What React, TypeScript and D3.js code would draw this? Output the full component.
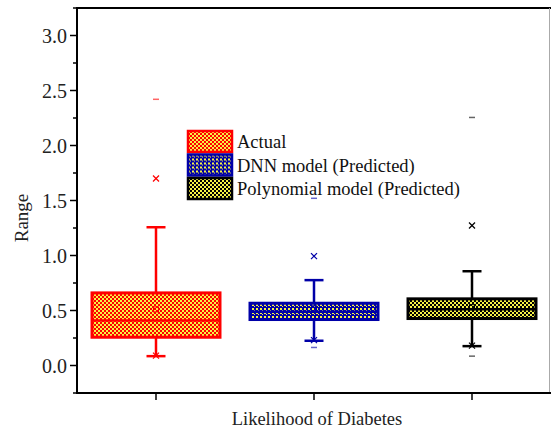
import React from "react";
import * as d3 from "d3";

const categories = ["Actual", "DNN model (Predicted)", "Polynomial model (Predicted)"];
const q1 = [0.257, 0.418, 0.427];
const median = [0.41, 0.488, 0.512];
const q3 = [0.66, 0.566, 0.606];
const whiskerLow = [0.085, 0.225, 0.176];
const whiskerHigh = [1.257, 0.776, 0.857];
const means = [0.51, 0.52, 0.53];
const p1 = [0.09, 0.23, 0.18];
const p99 = [1.7, 0.994, 1.273];
const minV = [0.085, 0.164, 0.085];
const maxV = [2.42, 1.52, 2.255];
const yTicks = [0, 0.5, 1.0, 1.5, 2.0, 2.5, 3.0];
const colors = ["#ff0000", "#0000a8", "#000000"];

const W = 551, H = 431;
const left = 77, right = 551, top = 8, bottom = 393;
const font = '"Times New Roman", "Liberation Serif", "DejaVu Serif", serif';

export default function App() {
  const x = d3.scaleLinear().domain([0.5, 3.5]).range([left, right]);
  const y = d3.scaleLinear().domain([-0.25, 3.25]).range([bottom, top]);
  const halfW = x(1.405) - x(1);
  const capHalf = 9.5;
  const minorTicks = d3.range(-0.25, 3.26, 0.25).filter((v) => Math.abs((v * 2) % 1) > 0.01);
  const cross = (cx: number, cy: number, c: string, s = 3) => (
    <g stroke={c} strokeWidth={1.2}>
      <line x1={cx - s} y1={cy - s} x2={cx + s} y2={cy + s} />
      <line x1={cx - s} y1={cy + s} x2={cx + s} y2={cy - s} />
    </g>
  );
  const txt = { fontFamily: font };
  return (
    <svg width={W} height={H} style={{ position: "absolute", left: 0, top: 0, background: "#fff" }}>
      <defs>
        {colors.map((c, i) => (
          <pattern key={i} id={`pat${i}`} width={4} height={4} patternUnits="userSpaceOnUse">
            <rect width={4} height={4} fill={c} />
            {i !== 1 ? (
              <>
                <rect x={0} y={0} width={2} height={2} fill="#f6f246" />
                <rect x={2} y={2} width={2} height={2} fill="#f6f246" />
              </>
            ) : (
              <>
                <rect x={0} y={0} width={2} height={2} fill="#f6f246" />
                <rect x={2} y={2} width={1} height={1} fill="#f6f246" />
              </>
            )}
          </pattern>
        ))}
      </defs>
      <line x1={left} y1={top} x2={right} y2={top} stroke="#000" strokeWidth={2} />
      <line x1={549.5} y1={top} x2={549.5} y2={bottom} stroke="#aaa" strokeWidth={1} />
      <line x1={left} y1={top - 1} x2={left} y2={bottom + 1} stroke="#000" strokeWidth={2} />
      <line x1={left - 1} y1={bottom} x2={right} y2={bottom} stroke="#000" strokeWidth={2} />
      {yTicks.map((t) => (
        <g key={t}>
          <line x1={left - 7} x2={left} y1={y(t)} y2={y(t)} stroke="#000" strokeWidth={1.5} />
          <text x={left - 10} y={y(t)} dy="0.35em" textAnchor="end" style={txt} fontSize={20} fill="#222">
            {t.toFixed(1)}
          </text>
        </g>
      ))}
      {minorTicks.map((t) => (
        <line key={t} x1={left - 4} x2={left} y1={y(t)} y2={y(t)} stroke="#000" strokeWidth={1.5} />
      ))}
      {categories.map((_, i) => (
        <line key={i} x1={x(i + 1)} x2={x(i + 1)} y1={bottom} y2={bottom + 7} stroke="#000" strokeWidth={1.5} />
      ))}
      {categories.map((_, i) => {
        const cx = x(i + 1);
        const c = colors[i];
        return (
          <g key={i}>
            <line x1={cx} x2={cx} y1={y(whiskerHigh[i])} y2={y(q3[i])} stroke={c} strokeWidth={2.5} />
            <line x1={cx} x2={cx} y1={y(q1[i])} y2={y(whiskerLow[i])} stroke={c} strokeWidth={2.5} />
            <line x1={cx - capHalf} x2={cx + capHalf} y1={y(whiskerHigh[i])} y2={y(whiskerHigh[i])} stroke={c} strokeWidth={2.5} />
            <line x1={cx - capHalf} x2={cx + capHalf} y1={y(whiskerLow[i])} y2={y(whiskerLow[i])} stroke={c} strokeWidth={2.5} />
            <rect x={cx - halfW} width={2 * halfW} y={y(q3[i])} height={y(q1[i]) - y(q3[i])} fill={`url(#pat${i})`} stroke={c} strokeWidth={3} />
            <line x1={cx - halfW} x2={cx + halfW} y1={y(median[i])} y2={y(median[i])} stroke={c} strokeWidth={2.5} />
            <rect x={cx - 2.5} y={y(means[i]) - 2.5} width={5} height={5} fill="none" stroke={c} strokeWidth={1} />
            {cross(cx, y(p1[i]), c)}
            {cross(cx, y(p99[i]), c)}
            <line x1={cx - 3} x2={cx + 3} y1={y(minV[i])} y2={y(minV[i])} stroke={c} strokeWidth={1.5} opacity={0.6} />
            <line x1={cx - 3} x2={cx + 3} y1={y(maxV[i])} y2={y(maxV[i])} stroke={c} strokeWidth={1.5} opacity={0.6} />
          </g>
        );
      })}
      {categories.map((name, i) => (
        <g key={name} transform={`translate(188, ${131 + i * 23.5})`}>
          <rect x={0} y={0} width={44} height={21} fill={`url(#pat${i})`} stroke={colors[i]} strokeWidth={2.5} />
          <text x={49} y={11} dy="0.35em" style={txt} fontSize={18.5} fill="#111">
            {name}
          </text>
        </g>
      ))}
      <text x={x(2) + 3} y={425} textAnchor="middle" style={txt} fontSize={18.5} fill="#222">
        Likelihood of Diabetes
      </text>
      <text transform={`translate(28, 218) rotate(-90)`} textAnchor="middle" style={txt} fontSize={19} fill="#222">
        Range
      </text>
    </svg>
  );
}
